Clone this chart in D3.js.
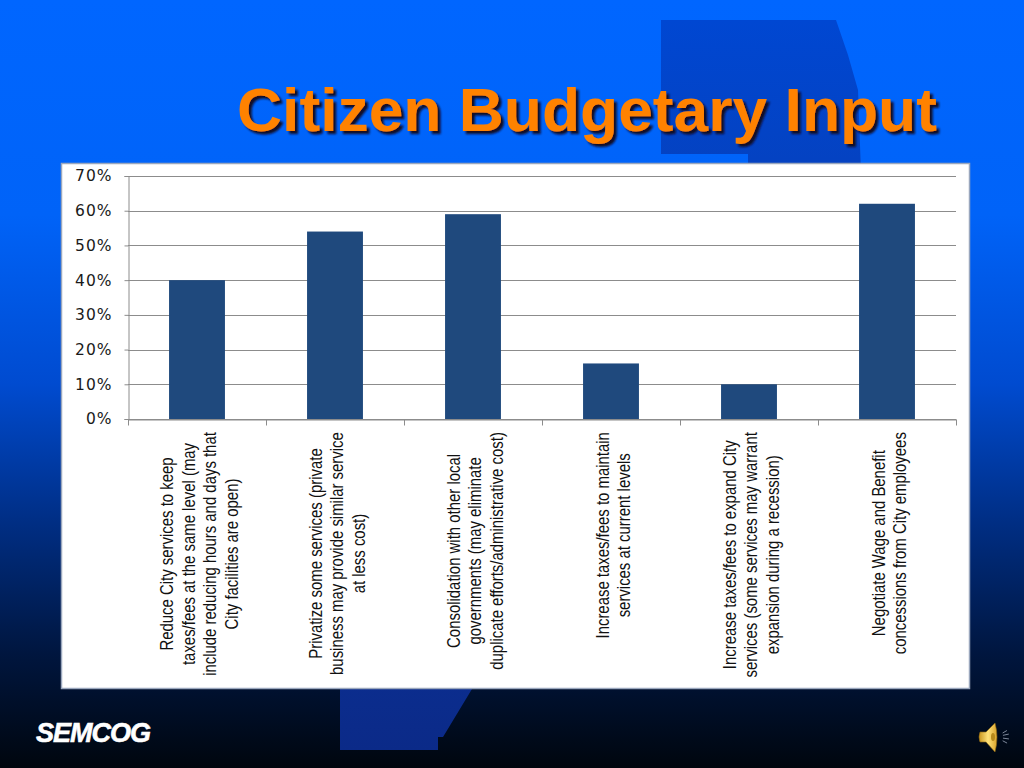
<!DOCTYPE html>
<html>
<head>
<meta charset="utf-8">
<script src="https://cdn.jsdelivr.net/npm/d3@7"></script>
<style>
  html, body { margin: 0; padding: 0; background: #000; }
  #slide { width: 1024px; height: 768px; }
</style>
</head>
<body>
<div id="slide"></div>
<script>
// chart data
const categories = [
  ["Reduce City services to keep", "taxes/fees at the same level (may", "include reducing hours and days that", "City facilities are open)"],
  ["Privatize some services (private", "business may provide similar service", "at less cost)"],
  ["Consolidation with other local", "governments (may eliminate", "duplicate efforts/administrative cost)"],
  ["Increase taxes/fees to maintain", "services at current levels"],
  ["Increase taxes/fees to expand City", "services (some services may warrant", "expansion during a recession)"],
  ["Negotiate Wage and Benefit", "concessions from City employees"]
];
const values = [0.40, 0.54, 0.59, 0.16, 0.10, 0.62];
const yTicks = [0, 0.1, 0.2, 0.3, 0.4, 0.5, 0.6, 0.7];
const titleText = "Citizen Budgetary Input";

const W = 1024, H = 768;

const svg = d3.select("#slide").append("svg")
    .attr("width", W)
    .attr("height", H);

const defs = svg.append("defs");

// slide background: bright blue fading to near black
const bg = defs.append("linearGradient")
    .attr("id", "bg").attr("x1", 0).attr("y1", 0).attr("x2", 0).attr("y2", 1);
[[0, "#0066ff"], [0.28, "#0063f8"], [0.5, "#004bd0"], [0.68, "#002e84"], [0.85, "#00163f"], [1, "#00060e"]]
  .forEach(s => bg.append("stop").attr("offset", s[0]).attr("stop-color", s[1]));

const mapGrad = defs.append("linearGradient")
    .attr("id", "mapg").attr("x1", 0).attr("y1", 0).attr("x2", 0).attr("y2", 1);
[[0, "#0047d2"], [0.5, "#0a3aa8"], [1, "#0b2a88"]]
  .forEach(s => mapGrad.append("stop").attr("offset", s[0]).attr("stop-color", s[1]));

// drop shadow for the title, done in one filter so the text is drawn once
const shadow = defs.append("filter").attr("id", "tshadow")
    .attr("x", "-5%").attr("y", "-20%").attr("width", "110%").attr("height", "150%");
shadow.append("feGaussianBlur").attr("in", "SourceAlpha").attr("stdDeviation", 1.2).attr("result", "blur");
shadow.append("feOffset").attr("in", "blur").attr("dx", 3).attr("dy", 3).attr("result", "off");
shadow.append("feFlood").attr("flood-color", "#120c28").attr("result", "col");
shadow.append("feComposite").attr("in", "col").attr("in2", "off").attr("operator", "in").attr("result", "sh");
const merge = shadow.append("feMerge");
merge.append("feMergeNode").attr("in", "sh");
merge.append("feMergeNode").attr("in", "SourceGraphic");

const spk = defs.append("linearGradient")
    .attr("id", "spk").attr("x1", 0).attr("y1", 0).attr("x2", 1).attr("y2", 0);
[[0, "#c8941e"], [0.5, "#ffe27a"], [1, "#d9a22a"]]
  .forEach(s => spk.append("stop").attr("offset", s[0]).attr("stop-color", s[1]));

svg.append("rect").attr("width", W).attr("height", H).attr("fill", "url(#bg)");

// faint county map shape behind the chart
const mapShape = [
  [661, 20], [836, 20], [848, 55], [858, 90], [862, 200],
  [472, 689], [443, 737], [438, 737], [438, 750], [340, 750],
  [340, 200], [748, 200], [748, 154], [661, 154]
];
svg.append("path")
    .attr("d", d3.line()(mapShape) + "Z")
    .attr("fill", "url(#mapg)");

// title
svg.append("text")
    .attr("x", 237).attr("y", 131)
    .attr("font-family", "'Liberation Sans', Arial, sans-serif")
    .attr("font-weight", "bold").attr("font-size", 62)
    .attr("textLength", 700).attr("lengthAdjust", "spacingAndGlyphs")
    .attr("fill", "#ff8200")
    .attr("filter", "url(#tshadow)")
    .text(titleText);

// white chart panel
svg.append("rect")
    .attr("x", 61.5).attr("y", 163.5).attr("width", 908).attr("height", 525)
    .attr("fill", "#fff").attr("stroke", "#9aa7bd").attr("stroke-width", 1.5);

const plot = { left: 128, right: 956, top: 176, bottom: 419 };

const x = d3.scaleBand()
    .domain(d3.range(categories.length))
    .range([plot.left, plot.right])
    .paddingInner(0.595).paddingOuter(0.2975);

const y = d3.scaleLinear()
    .domain([0, 0.7])
    .range([plot.bottom, plot.top]);

const g = svg.append("g");

// horizontal grid lines
g.selectAll(".grid")
  .data(yTicks)
  .enter().append("line")
    .attr("x1", plot.left).attr("x2", plot.right)
    .attr("y1", d => Math.round(y(d)) + 0.5).attr("y2", d => Math.round(y(d)) + 0.5)
    .attr("stroke", "#8c8c8c").attr("stroke-width", 1);

// y axis
const yAxis = d3.axisLeft(y)
    .tickValues(yTicks)
    .tickFormat(d3.format(".0%"))
    .tickSize(4).tickPadding(12);
const ya = g.append("g")
    .attr("transform", `translate(${plot.left + 0.5},0)`)
    .call(yAxis);
ya.select(".domain").attr("stroke", "#8c8c8c");
ya.selectAll(".tick line").attr("stroke", "#8c8c8c");
ya.selectAll(".tick text")
    .attr("font-family", "'DejaVu Sans', sans-serif")
    .attr("font-size", 15.5).attr("letter-spacing", 1)
    .attr("fill", "#1a1a1a");

// bars
g.selectAll(".bar")
  .data(values)
  .enter().append("rect")
    .attr("x", (d, i) => x(i))
    .attr("width", x.bandwidth())
    .attr("y", d => y(d))
    .attr("height", d => y(0) - y(d))
    .attr("fill", "#1f497d");

// x axis line and ticks at category boundaries
const xb = d3.scaleLinear().domain([0, categories.length]).range([plot.left, plot.right]);
const xAxis = d3.axisBottom(xb)
    .tickValues(d3.range(categories.length + 1))
    .tickSize(6).tickSizeOuter(0).tickFormat("");
const xa = g.append("g")
    .attr("transform", `translate(0,${Math.round(y(0)) + 0.5})`)
    .call(xAxis);
xa.select(".domain").attr("stroke", "#8c8c8c");
xa.selectAll(".tick line").attr("stroke", "#8c8c8c");

// rotated category labels, squeezed along the text to look like a narrow face
const labelTop = 432, lineH = 21.5, labelSize = 18;
const labelFont = "'Liberation Sans', Arial, sans-serif";
const probe = svg.append("text")
    .attr("font-family", labelFont).attr("font-size", labelSize)
    .text(categories[0][2]);
const squeeze = 244 / probe.node().getComputedTextLength();
probe.remove();

categories.forEach((lines, i) => {
  const cx = x(i) + x.bandwidth() / 2;
  const lg = g.append("g");
  const texts = lines.map((t, j) => lg.append("text")
      .attr("text-anchor", "middle")
      .attr("font-family", labelFont)
      .attr("font-size", labelSize)
      .attr("fill", "#111")
      .attr("x", 0)
      .attr("y", (j - (lines.length - 1) / 2) * lineH)
      .attr("dy", "0.35em")
      .text(t));
  const maxLen = d3.max(texts, t => t.node().getComputedTextLength()) * squeeze;
  lg.attr("transform", `translate(${cx + 2},${labelTop + maxLen / 2}) rotate(-90) scale(${squeeze},1)`);
});

// SEMCOG logo text
svg.append("text")
    .attr("x", 36).attr("y", 742)
    .attr("font-family", "'Liberation Sans', Arial, sans-serif")
    .attr("font-weight", "bold").attr("font-style", "italic")
    .attr("font-size", 27).attr("letter-spacing", -1)
    .attr("fill", "#fff").attr("stroke", "#fff").attr("stroke-width", 0.6)
    .text("SEMCOG");

// little speaker icon
const sp = svg.append("g").attr("transform", "translate(978,721)");
sp.append("path")
    .attr("d", "M2,11 L8,11 L17,2 Q21,16 17,31 L8,21 L2,21 Q0,16 2,11 Z")
    .attr("fill", "url(#spk)").attr("stroke", "#8a6410").attr("stroke-width", 0.6);
sp.append("ellipse").attr("cx", 15).attr("cy", 16).attr("rx", 2).attr("ry", 4)
    .attr("fill", "#b88a1c");
[[-30, 5], [-12, 6], [8, 6], [28, 5]].forEach(r => {
  const a = r[0] * Math.PI / 180;
  sp.append("line")
      .attr("x1", 22 + Math.cos(a) * 3).attr("y1", 16 + Math.sin(a) * 8)
      .attr("x2", 22 + Math.cos(a) * (3 + r[1])).attr("y2", 16 + Math.sin(a) * 8 + Math.sin(a) * r[1])
      .attr("stroke", "#7d8799").attr("stroke-width", 1);
});
</script>
</body>
</html>
